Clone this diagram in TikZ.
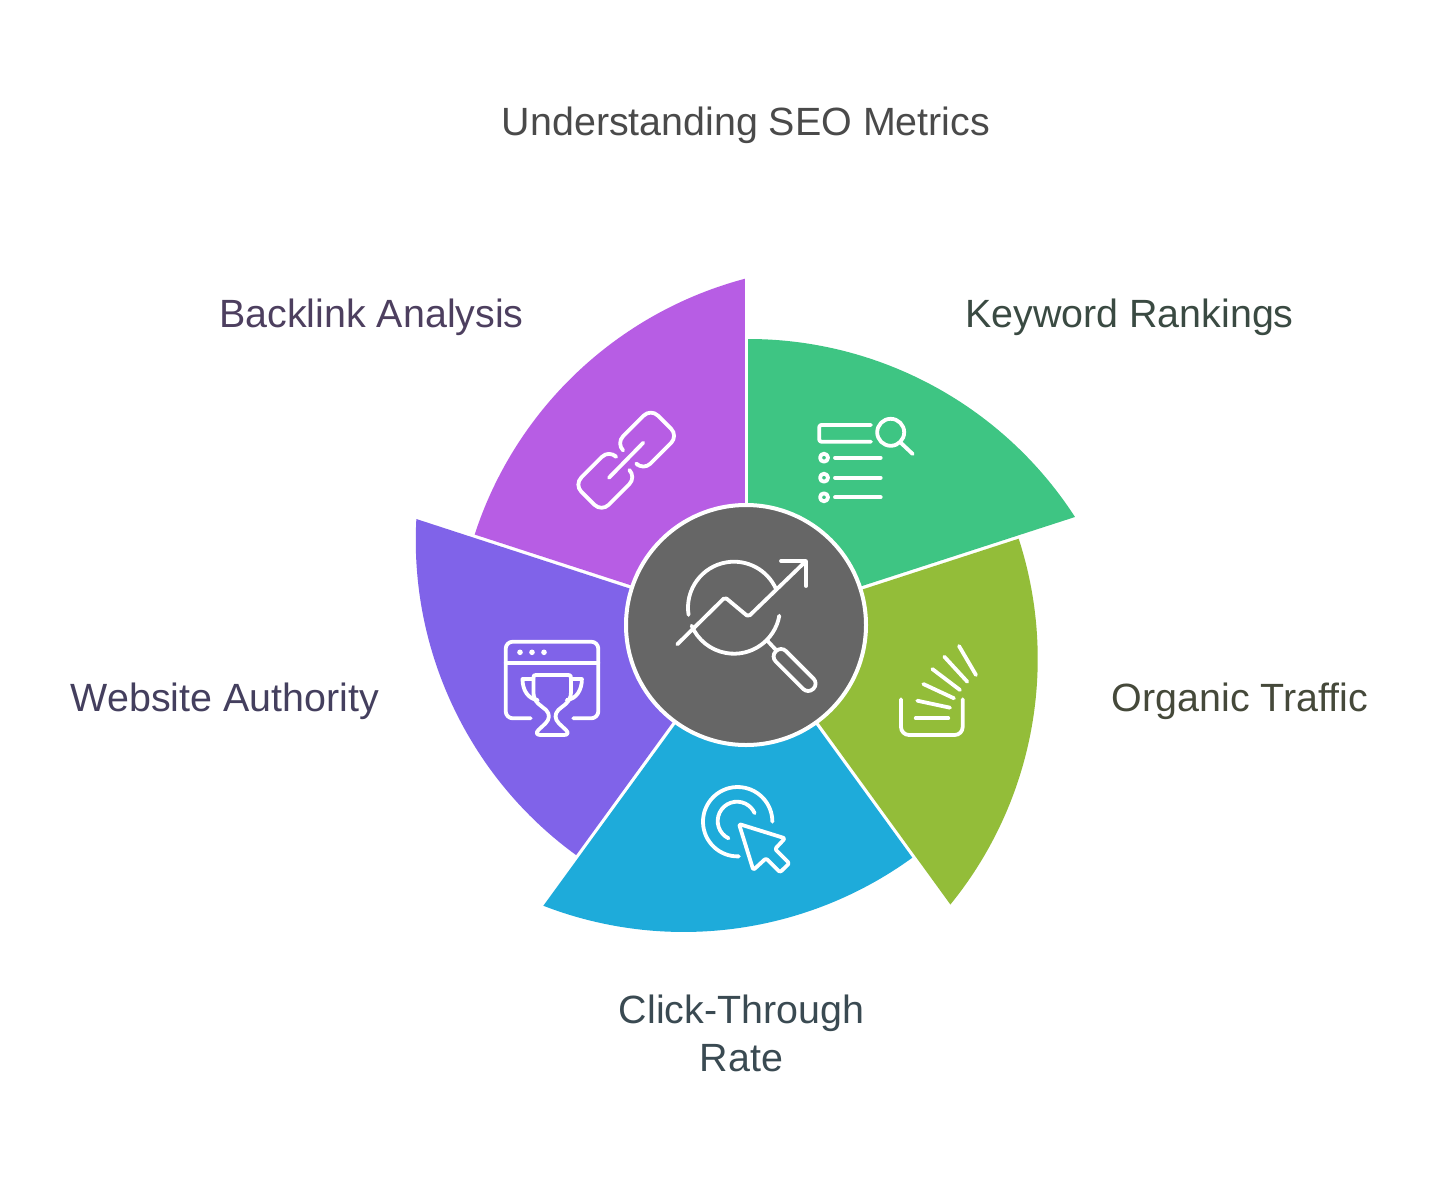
\documentclass[tikz,border=0pt]{standalone}
\usepackage{fontspec}
\setmainfont{Liberation Sans}
\usetikzlibrary{arrows, shapes, calc, positioning}

\definecolor{keygreen}{HTML}{3EC583}
\definecolor{trafficolive}{HTML}{93BD39}
\definecolor{clickblue}{HTML}{1EABDA}
\definecolor{authviolet}{HTML}{8063E9}
\definecolor{linkpurple}{HTML}{B75DE4}
\definecolor{hubgrey}{HTML}{666666}
\definecolor{titletext}{HTML}{4A4A4A}
\definecolor{linktext}{HTML}{4D3F5F}
\definecolor{keytext}{HTML}{3A4A42}
\definecolor{traffictext}{HTML}{45493A}
\definecolor{authtext}{HTML}{443F5E}
\definecolor{clicktext}{HTML}{3A4A52}

\newcommand{\sectorpath}[2]{
  \fill[#2, shift={(746,625)}, y=1pt, rotate=#1]
    (2.2,60) -- (2.2,286) arc[start angle=90, end angle=32.85, radius=389] -- (56.66,19.78) -- cycle;
}

\tikzset{
  metriclabel/.style={anchor=base, align=center, font=\fontsize{39.4}{48}\selectfont},
  iconline/.style={draw=white, line width=3.8pt, line cap=round, line join=round},
  icondot/.style={fill=white, draw=none}
}

\begin{document}
\begin{tikzpicture}[x=1pt, y=-1pt]
\useasboundingbox (0,0) rectangle (1444,1181);

\sectorpath{0}{keygreen}
\sectorpath{-72}{trafficolive}
\sectorpath{-144}{clickblue}
\sectorpath{-216}{authviolet}
\sectorpath{-288}{linkpurple}

\draw
    node [circle, fill=hubgrey, draw=white, line width=4pt, minimum size=240pt] (hub) at (746,625) {}
    node [metriclabel, text=titletext] (title) at (746,135) {Understanding SEO Metrics}
    node [metriclabel, text=linktext] (backlink) at (371.5,327) {Backlink Analysis}
    node [metriclabel, text=keytext] (keyword) at (1129.5,327) {Keyword Rankings}
    node [metriclabel, text=traffictext] (organic) at (1240,711) {Organic Traffic}
    node [metriclabel, text=authtext] (website) at (225,711) {Website Authority}
    node [metriclabel, text=clicktext, anchor=center] (click) at (741.5,1033) {Click-Through\\Rate}
;

% hub icon
\draw[iconline] (734,607.7) ++(171:46) arc[start angle=171, end angle=336, radius=46];
\draw[iconline] (734,607.7) ++(10:46) arc[start angle=10, end angle=157, radius=46];
\draw[iconline, rounded corners=2pt] (677.3,644.3) -- (725,597.3) -- (748.3,616.7) -- (806,561);
\draw[iconline] (781,561) -- (806,561) -- (806,586);
\draw[iconline] (766.7,640) -- (776,650);
\draw[iconline, rotate around={-45:(794.6,670)}, rounded corners=7pt] (768.1,662.7) rectangle (821.1,677.3);

% keyword icon
\draw[iconline, rounded corners=2pt] (871,425) -- (819.3,425) -- (819.3,441.7) -- (871,441.7);
\draw[iconline] (890.7,432.3) circle[radius=13.5];
\draw[iconline] (900.7,442.7) -- (912.7,454);
\draw[iconline] (824,457.7) circle[radius=4];
\draw[iconline] (824,477.7) circle[radius=4];
\draw[iconline] (824,497.3) circle[radius=4];
\draw[iconline] (835,457.7) -- (880.7,457.7);
\draw[iconline] (835,477.7) -- (880.7,477.7);
\draw[iconline] (835,497.3) -- (880.7,497.3);

% traffic icon
\draw[iconline, rounded corners=8pt] (901,699.3) -- (901,735) -- (962.7,735) -- (962.7,699.3);
\draw[iconline] (915.7,718.3) -- (948.3,718.3);
\draw[iconline] (917.3,700.7) -- (950,707.7);
\draw[iconline] (923.3,684) -- (954,698.3);
\draw[iconline] (932.3,669) -- (960,690);
\draw[iconline] (944.3,656.7) -- (967.3,681.7);
\draw[iconline] (959,646) -- (976,675);

% click icon
\draw[iconline] (737.7,821.7) ++(88:34.7) arc[start angle=88, end angle=360, radius=34.7];
\draw[iconline] (737,821) ++(116:19.3) arc[start angle=116, end angle=336, radius=19.3];
\draw[iconline, rounded corners=2pt] (739,824) -- (785,838.3) -- (775,849) -- (789.3,863.3)
    -- (780,872.3) -- (766,858.3) -- (753.3,870) -- cycle;

% website icon
\draw[iconline, rounded corners=7pt] (530.7,718.3) -- (505.7,718.3) -- (505.7,641.7) -- (598.3,641.7)
    -- (598.3,718.3) -- (573.3,718.3);
\draw[iconline] (505.7,662.7) -- (598.3,662.7);
\fill[icondot] (520,652.3) circle[radius=2.8];
\fill[icondot] (532,652.3) circle[radius=2.8];
\fill[icondot] (544,652.3) circle[radius=2.8];
\draw[iconline] (533.4,678) .. controls (533.4,675.5) and (534,675) .. (536,675) -- (568.4,675)
    .. controls (570.4,675) and (571,675.5) .. (571,678) -- (571,692)
    .. controls (571,703) and (562,706) .. (558.3,710) .. controls (554.5,714) and (554.5,719) .. (559,723.5)
    -- (566,730) .. controls (569,733) and (567.5,735) .. (564,735) -- (540.4,735)
    .. controls (536.9,735) and (535.4,733) .. (538.4,730) -- (545.4,723.5)
    .. controls (549.9,719) and (549.9,714) .. (546.1,710) .. controls (542,706) and (533.4,703) .. (533.4,692) -- cycle;
\draw[iconline] (533.4,679) -- (522.5,679) .. controls (522.5,690) and (528,699) .. (537.7,700);
\draw[iconline] (571,679) -- (581.9,679) .. controls (581.9,690) and (576.4,699) .. (566.7,700);

% backlink icon
\draw[iconline, rounded corners=10pt] (622.5,449.8) -- (616,443.3) -- (650.8,408.5) -- (678.2,435.8)
    -- (643.3,470.7) -- (638,465.3);
\draw[iconline, rounded corners=10pt] (629.9,470.6) -- (636.4,477.1) -- (601.6,511.9) -- (574.2,484.6)
    -- (609.1,449.7) -- (614.4,455.1);
\draw[iconline] (609,477.7) -- (643.3,442.7);
\end{tikzpicture}
\end{document}
